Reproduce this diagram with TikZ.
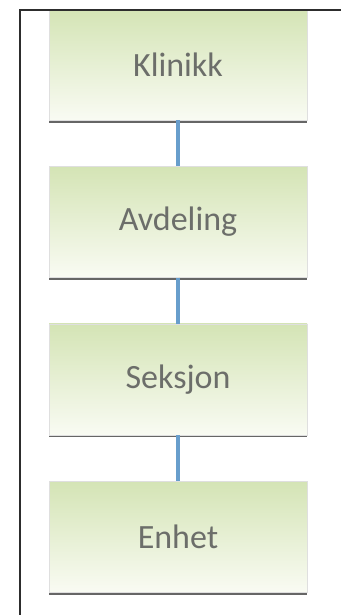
\documentclass[tikz,border=0pt]{standalone}
\usepackage{fontspec}
\setmainfont{Carlito}
\usepackage{xcolor}
\usepackage{tikz}
\usetikzlibrary{positioning, shadows}

\definecolor{boxtop}{RGB}{212,228,181}
\definecolor{boxbottom}{RGB}{249,251,243}
\definecolor{boxtext}{RGB}{108,110,106}
\definecolor{linkblue}{RGB}{104,158,204}
\definecolor{framegray}{RGB}{45,45,45}

\begin{document}
\begin{tikzpicture}[x=1pt, y=-1pt,
    level/.style={rectangle, minimum width=258pt, minimum height=111pt,
        top color=boxtop, bottom color=boxbottom, draw=gray!25, line width=0.4pt,
        drop shadow={shadow xshift=0pt, shadow yshift=-2.5pt, fill=black!75, opacity=0.8},
        text=boxtext, font=\fontsize{34}{40}\selectfont},
    link/.style={linkblue, line width=3.5pt}]
    \useasboundingbox (0,0) rectangle (341,615);

    % 1. Boksene
    \node[level] (klinikk) at (178,64.5) {Klinikk};
    \node[level, below=46pt of klinikk] (avdeling) {Avdeling};
    \node[level, below=46pt of avdeling] (seksjon) {Seksjon};
    \node[level, below=46pt of seksjon] (enhet) {Enhet};

    % 2. Forbindelser
    \draw[link] (klinikk.south) -- (avdeling.north);
    \draw[link] (avdeling.south) -- (seksjon.north);
    \draw[link] (seksjon.south) -- (enhet.north);

    % 3. Ramme
    \fill[white] (0,0) rectangle (341,9.5);
    \draw[framegray, line width=2pt] (19.5,615) -- (19.5,10.5) -- (341,10.5);
\end{tikzpicture}
\end{document}
